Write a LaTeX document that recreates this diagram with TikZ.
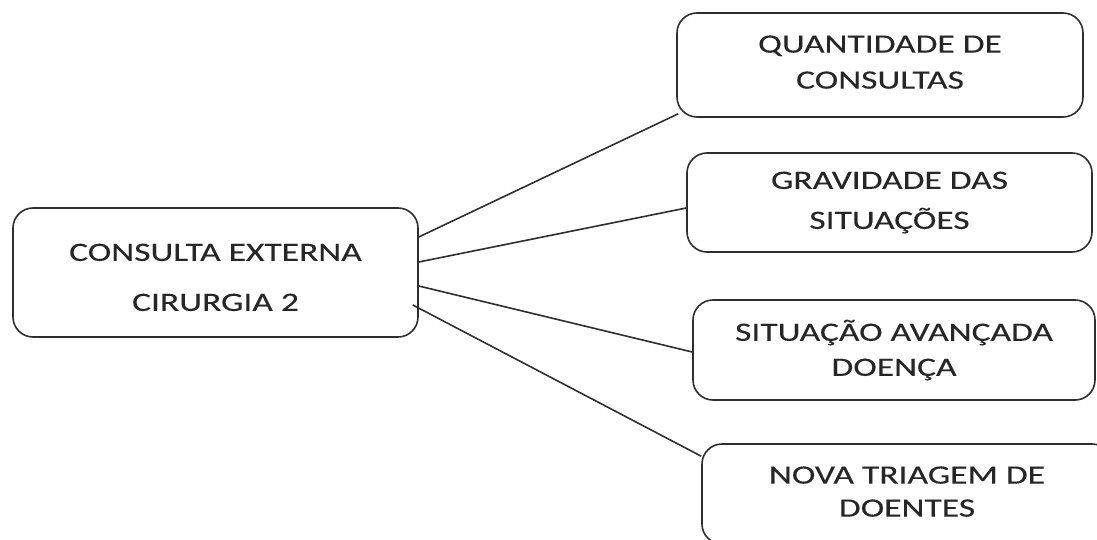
\documentclass[tikz,border=0pt]{standalone}
\usepackage{fontspec}
\setmainfont{Carlito}[FakeStretch=1.34,FakeBold=0.2]
\definecolor{edge}{HTML}{2E2E2E}
\definecolor{ink}{HTML}{262626}
\begin{document}
\begin{tikzpicture}[x=1pt,y=-1pt,
  box/.style={draw=edge, line width=1.6pt, rounded corners=20pt, align=center,
    text=ink, inner sep=0pt, font=\fontsize{26.5}{36}\selectfont},
  link/.style={draw=edge, line width=1.6pt}]
\useasboundingbox (0,0) rectangle (1097,540);
\clip (0,0) rectangle (1097,540);
\node[box, minimum width=405pt, minimum height=129pt, font=\fontsize{26.5}{50}\selectfont] (L) at (215.5,272.5) {\rule{0pt}{27pt}CONSULTA EXTERNA\\CIRURGIA 2};
\node[box, minimum width=406pt, minimum height=104pt] (B1) at (880,65) {QUANTIDADE DE\\CONSULTAS\rule[-6pt]{0pt}{6pt}};
\node[box, minimum width=405pt, minimum height=99pt, font=\fontsize{26.5}{40}\selectfont] (B2) at (889.5,202.5) {GRAVIDADE DAS\\SITUAÇÕES};
\node[box, minimum width=402pt, minimum height=100pt, font=\fontsize{26.5}{35}\selectfont] (B3) at (894,350) {SITUAÇÃO AVANÇADA\\DOENÇA};
\node[box, minimum width=410pt, minimum height=100pt, font=\fontsize{26.5}{33}\selectfont] (B4) at (907,494) {NOVA TRIAGEM DE\\DOENTES\rule[-5pt]{0pt}{5pt}};
\draw[link] ([yshift=35.5pt]L.east) -- ([shift={(2pt,4pt)}]B1.south west);
\draw[link] ([yshift=10.5pt]L.east) -- ([yshift=-5.5pt]B2.west);
\draw[link] ([yshift=-13.5pt]L.east) -- ([yshift=-2pt]B3.west);
\draw[link] ([shift={(-6pt,-32.5pt)}]L.east) -- ([yshift=-13pt]B4.north west);
\end{tikzpicture}
\end{document}
